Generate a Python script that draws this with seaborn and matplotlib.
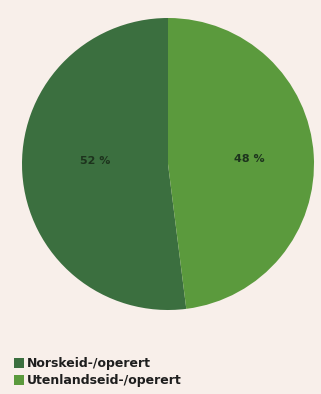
import matplotlib
matplotlib.use("Agg")
import matplotlib.pyplot as plt
import seaborn as sns
from matplotlib.patches import Patch

# data
labels = ["Norskeid-/operert", "Utenlandseid-/operert"]
shares = [52, 48]
pct_text = ["52 %", "48 %"]
colors = ["#3b6f3f", "#5b9a3d"]

bg = "#f8efea"

sns.set_theme(style="white")
plt.rcParams['font.family'] = ['DejaVu Sans']

fig = plt.figure(figsize=(3.21, 3.94), dpi=100, facecolor=bg)
ax = fig.add_axes([22 / 321, 82 / 394, 292 / 321, 296 / 394])
ax.set_facecolor(bg)

wedges, texts = ax.pie(shares, colors=colors, startangle=90, counterclock=True,
                       labels=pct_text, labeldistance=0.5,
                       wedgeprops=dict(linewidth=0))
# nudge the % labels a bit (photo of print: labels sit just above centre line)
nudges = [(0.0, 0.05), (0.06, 0.0)]
for t, (dx, dy) in zip(texts, nudges):
    x, y = t.get_position()
    t.set_position((x + dx, y + dy))
    t.set_fontsize(8)
    t.set_fontweight("bold")
    t.set_color("#1d331d")
    t.set_ha("center")
    t.set_va("center")
ax.set_aspect("equal")
ax.set_xlim(-1, 1)
ax.set_ylim(-1, 1)
ax.axis("off")

# legend
handles = [Patch(facecolor=c, edgecolor="none") for c in colors]
leg = fig.legend(handles, labels, loc="lower left", bbox_to_anchor=(0.015, -0.005),
                 frameon=False, handlelength=0.8, handleheight=0.8,
                 handletextpad=0.3, labelspacing=0.3, borderpad=0.2,
                 prop=dict(size=9, weight="bold"))
for t in leg.get_texts():
    t.set_color("#1e1e1e")

fig.savefig("out.png", dpi=100, facecolor=bg)
